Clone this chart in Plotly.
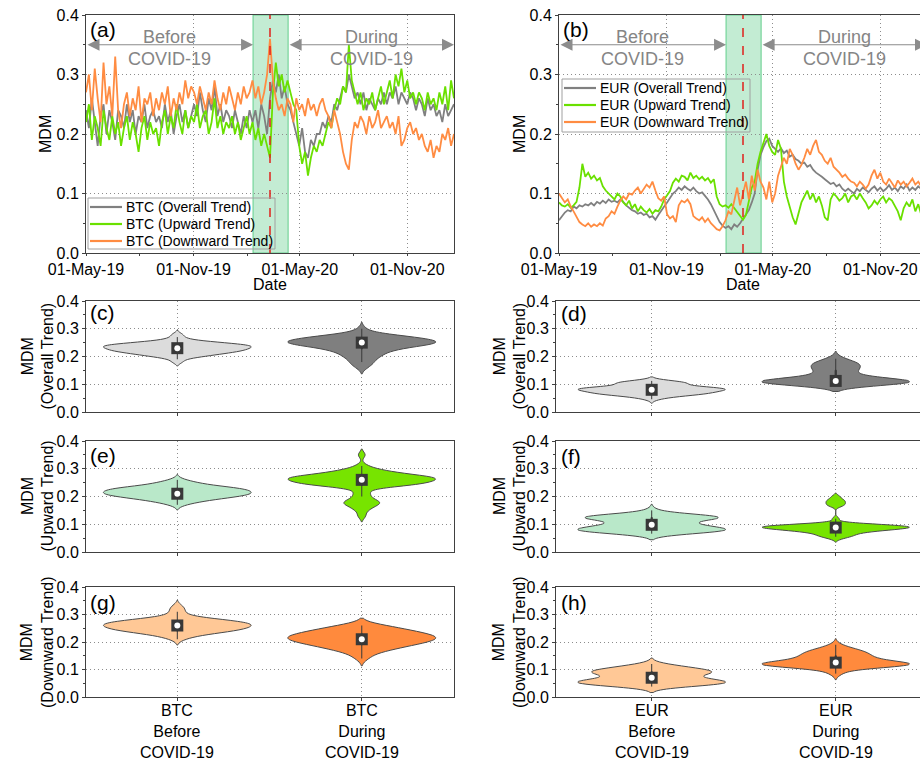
import numpy as np
import pandas as pd
import plotly.graph_objects as go

W, H = 920, 763


def px(x):
    return x / W


def py(y):
    return 1 - y / H


# MDM sampled every 5 days from 1 May 2019 (127 readings).
# Each series is split into: before (57), transition window (13), during (57).
dates = pd.date_range("2019-05-01", periods=127, freq="5D")

# ---------------- BTC ----------------
btc_overall_before = [
    0.24, 0.21, 0.26, 0.22, 0.18, 0.23, 0.25, 0.20, 0.24, 0.22,
    0.19, 0.24, 0.23, 0.21, 0.25, 0.22, 0.24, 0.20, 0.23, 0.22,
    0.25, 0.21, 0.23, 0.24, 0.22, 0.23, 0.21, 0.25, 0.22, 0.24,
    0.20, 0.23, 0.25, 0.22, 0.24, 0.21, 0.23, 0.25, 0.23, 0.27,
    0.24, 0.22, 0.26, 0.24, 0.28, 0.23, 0.25, 0.22, 0.24, 0.23,
    0.21, 0.24, 0.22, 0.20, 0.23, 0.21, 0.24,
]
btc_overall_window = [0.22, 0.24, 0.21, 0.25, 0.23, 0.20, 0.26, 0.29, 0.27, 0.30, 0.26, 0.28, 0.25]
btc_overall_during = [
    0.24, 0.22, 0.20, 0.18, 0.21, 0.17, 0.16, 0.19, 0.18, 0.20,
    0.20, 0.22, 0.21, 0.23, 0.22, 0.25, 0.24, 0.26, 0.28, 0.27,
    0.30, 0.28, 0.26, 0.27, 0.25, 0.27, 0.24, 0.26, 0.25, 0.24,
    0.26, 0.25, 0.27, 0.25, 0.27, 0.26, 0.28, 0.25, 0.27, 0.26,
    0.25, 0.27, 0.26, 0.24, 0.26, 0.25, 0.23, 0.26, 0.24, 0.25,
    0.23, 0.24, 0.22, 0.25, 0.23, 0.24, 0.25,
]

btc_upward_before = [
    0.22, 0.25, 0.19, 0.23, 0.21, 0.18, 0.24, 0.21, 0.19, 0.23,
    0.20, 0.22, 0.18, 0.21, 0.23, 0.19, 0.22, 0.20, 0.17, 0.21,
    0.23, 0.19, 0.22, 0.20, 0.21, 0.18, 0.22, 0.24, 0.20, 0.23,
    0.21, 0.25, 0.22, 0.20, 0.24, 0.21, 0.23, 0.22, 0.25, 0.21,
    0.23, 0.24, 0.20, 0.22, 0.26, 0.21, 0.23, 0.20, 0.22, 0.21,
    0.23, 0.20, 0.22, 0.19, 0.21, 0.23, 0.20,
]
btc_upward_window = [0.22, 0.19, 0.21, 0.18, 0.20, 0.18, 0.16, 0.27, 0.32, 0.28, 0.30, 0.27, 0.29]
btc_upward_during = [
    0.27, 0.25, 0.24, 0.18, 0.15, 0.17, 0.13, 0.16, 0.18, 0.17,
    0.19, 0.18, 0.20, 0.22, 0.21, 0.24, 0.26, 0.25, 0.28, 0.27,
    0.35, 0.29, 0.27, 0.25, 0.27, 0.24, 0.26, 0.25, 0.27, 0.24,
    0.26, 0.28, 0.25, 0.27, 0.29, 0.26, 0.30, 0.28, 0.31, 0.27,
    0.29, 0.26, 0.27, 0.25, 0.27, 0.26, 0.24, 0.27, 0.25, 0.26,
    0.24, 0.27, 0.25, 0.28, 0.24, 0.29, 0.26,
]

btc_downward_before = [
    0.27, 0.30, 0.24, 0.31, 0.26, 0.22, 0.32, 0.25, 0.28, 0.23,
    0.33, 0.24, 0.21, 0.25, 0.27, 0.23, 0.26, 0.24, 0.28, 0.22,
    0.26, 0.25, 0.27, 0.23, 0.26, 0.24, 0.27, 0.25, 0.28, 0.23,
    0.26, 0.24, 0.27, 0.25, 0.29, 0.26, 0.28, 0.27, 0.25, 0.28,
    0.26, 0.24, 0.27, 0.25, 0.29, 0.26, 0.24, 0.27, 0.25, 0.28,
    0.26, 0.24, 0.27, 0.25, 0.28, 0.26, 0.27,
]
btc_downward_window = [0.29, 0.26, 0.28, 0.25, 0.27, 0.30, 0.36, 0.29, 0.26, 0.24, 0.25, 0.23, 0.26]
btc_downward_during = [
    0.25, 0.22, 0.26, 0.24, 0.25, 0.23, 0.26, 0.24, 0.25, 0.23,
    0.25, 0.26, 0.24, 0.23, 0.21, 0.24, 0.22, 0.20, 0.17, 0.15,
    0.14, 0.19, 0.22, 0.21, 0.23, 0.22, 0.20, 0.23, 0.21, 0.22,
    0.24, 0.21, 0.22, 0.23, 0.21, 0.22, 0.20, 0.23, 0.18, 0.19,
    0.21, 0.22, 0.20, 0.21, 0.19, 0.20, 0.18, 0.17, 0.19, 0.16,
    0.18, 0.17, 0.20, 0.19, 0.21, 0.18, 0.20,
]

# ---------------- EUR ----------------
eur_overall_before = [
    0.055, 0.062, 0.068, 0.072, 0.070, 0.078, 0.075, 0.080, 0.078, 0.082,
    0.080, 0.084, 0.080, 0.086, 0.083, 0.088, 0.084, 0.090, 0.086, 0.088,
    0.085, 0.090, 0.086, 0.080, 0.076, 0.072, 0.070, 0.066, 0.068, 0.064,
    0.066, 0.060, 0.062, 0.056, 0.064, 0.070, 0.078, 0.085, 0.092, 0.100,
    0.104, 0.110, 0.106, 0.112, 0.108, 0.105, 0.110, 0.104, 0.100, 0.102,
    0.096, 0.090, 0.082, 0.072, 0.062, 0.052, 0.046,
]
eur_overall_window = [0.042, 0.045, 0.040, 0.048, 0.044, 0.050, 0.058, 0.066, 0.072, 0.085, 0.100, 0.140, 0.165]
eur_overall_during = [
    0.178, 0.188, 0.192, 0.180, 0.175, 0.170, 0.176, 0.168, 0.172, 0.162,
    0.165, 0.158, 0.155, 0.150, 0.152, 0.145, 0.148, 0.140, 0.135, 0.132,
    0.128, 0.124, 0.120, 0.116, 0.118, 0.112, 0.115, 0.108, 0.104, 0.108,
    0.104, 0.100, 0.108, 0.104, 0.110, 0.106, 0.102, 0.108, 0.112, 0.105,
    0.110, 0.104, 0.108, 0.114, 0.106, 0.110, 0.104, 0.112, 0.108, 0.115,
    0.105, 0.110, 0.106, 0.112, 0.108, 0.104, 0.110,
]

eur_upward_before = [
    0.085, 0.080, 0.078, 0.082, 0.076, 0.080, 0.086, 0.110, 0.150, 0.128,
    0.135, 0.125, 0.130, 0.122, 0.126, 0.112, 0.105, 0.100, 0.095, 0.090,
    0.100, 0.095, 0.085, 0.080, 0.088, 0.075, 0.082, 0.070, 0.078, 0.072,
    0.068, 0.074, 0.066, 0.072, 0.070, 0.078, 0.090, 0.098, 0.104, 0.118,
    0.125, 0.120, 0.130, 0.128, 0.122, 0.135, 0.126, 0.130, 0.124, 0.128,
    0.122, 0.126, 0.118, 0.124, 0.095, 0.082, 0.078,
]
eur_upward_window = [0.080, 0.076, 0.082, 0.075, 0.070, 0.062, 0.056, 0.064, 0.090, 0.110, 0.120, 0.150, 0.170]
eur_upward_during = [
    0.185, 0.200, 0.180, 0.170, 0.165, 0.190, 0.175, 0.120, 0.095, 0.075,
    0.060, 0.048, 0.065, 0.085, 0.095, 0.105, 0.090, 0.100, 0.085, 0.095,
    0.080, 0.060, 0.055, 0.090, 0.100, 0.095, 0.088, 0.092, 0.100, 0.085,
    0.095, 0.098, 0.090, 0.100, 0.092, 0.085, 0.075, 0.080, 0.088, 0.082,
    0.090, 0.095, 0.085, 0.092, 0.088, 0.080, 0.070, 0.055, 0.075, 0.085,
    0.078, 0.090, 0.070, 0.082, 0.065, 0.078, 0.072,
]

eur_downward_before = [
    0.100, 0.092, 0.085, 0.090, 0.078, 0.070, 0.060, 0.052, 0.048, 0.045,
    0.050, 0.044, 0.048, 0.045, 0.050, 0.046, 0.058, 0.062, 0.070, 0.066,
    0.078, 0.088, 0.095, 0.090, 0.100, 0.098, 0.105, 0.110, 0.100, 0.108,
    0.115, 0.110, 0.120, 0.105, 0.092, 0.088, 0.095, 0.065, 0.058, 0.062,
    0.052, 0.080, 0.088, 0.085, 0.090, 0.082, 0.062, 0.058, 0.055, 0.060,
    0.052, 0.058, 0.050, 0.045, 0.040, 0.038, 0.045,
]
eur_downward_window = [0.055, 0.070, 0.065, 0.085, 0.110, 0.080, 0.100, 0.120, 0.090, 0.130, 0.105, 0.140, 0.120]
eur_downward_during = [
    0.110, 0.090, 0.120, 0.085, 0.100, 0.130, 0.145, 0.160, 0.150, 0.175,
    0.165, 0.150, 0.140, 0.148, 0.160, 0.175, 0.165, 0.180, 0.190, 0.170,
    0.165, 0.155, 0.150, 0.160, 0.145, 0.140, 0.135, 0.128, 0.132, 0.125,
    0.120, 0.118, 0.112, 0.120, 0.115, 0.108, 0.115, 0.130, 0.140, 0.125,
    0.135, 0.120, 0.115, 0.125, 0.118, 0.110, 0.122, 0.115, 0.120, 0.112,
    0.118, 0.125, 0.115, 0.120, 0.112, 0.118, 0.115,
]

trend_labels = ["Overall Trend", "Upward Trend", "Downward Trend"]
period_labels = ["Before", "During"]
line_colors = ["#808080", "#6ae000", "#ff8c42"]
violin_before_colors = ["#dcdcdc", "#b9e8c9", "#ffc896"]
violin_during_colors = ["#7f7f7f", "#77e400", "#ff8a3d"]

btc_sets = [
    (btc_overall_before, btc_overall_window, btc_overall_during),
    (btc_upward_before, btc_upward_window, btc_upward_during),
    (btc_downward_before, btc_downward_window, btc_downward_during),
]
eur_sets = [
    (eur_overall_before, eur_overall_window, eur_overall_during),
    (eur_upward_before, eur_upward_window, eur_upward_during),
    (eur_downward_before, eur_downward_window, eur_downward_during),
]

window_start, window_end, pandemic_day = "2020-02-11", "2020-04-11", "2020-03-11"
date_start, date_end = "2019-05-01", "2021-01-20"
right_view_end = "2021-01-08"

FONT = "Liberation Sans, Arial, sans-serif"
AX = "#404040"
GRID = "#8c8c8c"
GRID_DASH = "1px,3px"
BOX_DARK = "#383838"

fig = go.Figure()

# ---- time series panels ----
for sets, code, xa, ya in [(btc_sets, "BTC", "x", "y"), (eur_sets, "EUR", "x2", "y2")]:
    for (b, w, d), lab, col in zip(sets, trend_labels, line_colors):
        fig.add_trace(go.Scatter(
            x=dates, y=list(b) + list(w) + list(d), mode="lines",
            line=dict(color=col, width=1.8), name=f"{code} ({lab})",
            xaxis=xa, yaxis=ya, showlegend=False))

# ---- violin panels ----
violin_axes = [("x3", "y3"), ("x5", "y5"), ("x7", "y7"),   # BTC column
               ("x4", "y4"), ("x6", "y6"), ("x8", "y8")]   # EUR column
all_sets = btc_sets + eur_sets
for k, ((xa, ya), (b, w, d)) in enumerate(zip(violin_axes, all_sets)):
    t = k % 3
    for pos, vals, fill in [(0, b, violin_before_colors[t]), (1, d, violin_during_colors[t])]:
        fig.add_trace(go.Violin(
            x=[pos] * len(vals), y=vals, xaxis=xa, yaxis=ya,
            width=0.8, scalemode="width", spanmode="soft", side="both",
            points=False, fillcolor=fill, opacity=1,
            line=dict(color="#4a4a4a", width=1),
            box=dict(visible=True, width=0.008, fillcolor=BOX_DARK,
                     line=dict(color=BOX_DARK, width=1)),
            meanline=dict(visible=False), showlegend=False, hoverinfo="y"))
        med = float(np.median(vals))
        # dark square with a white dot at the median
        fig.add_trace(go.Scatter(
            x=[pos], y=[med], mode="markers",
            marker=dict(color=BOX_DARK, size=12, symbol="square", opacity=1, line=dict(width=0)),
            xaxis=xa, yaxis=ya, showlegend=False, hoverinfo="skip"))
        fig.add_trace(go.Scatter(
            x=[pos], y=[med], mode="markers",
            marker=dict(color="white", size=6, symbol="circle", opacity=1, line=dict(width=0)),
            xaxis=xa, yaxis=ya, showlegend=False, hoverinfo="skip"))


def y_axis(domain, anchor, mirror=True):
    return dict(domain=domain, anchor=anchor, range=[0, 0.4], tickvals=[0, 0.1, 0.2, 0.3, 0.4],
                tickformat=".1f", ticks="outside", ticklen=3,
                tickcolor=AX, showline=True, linecolor=AX, linewidth=1, mirror=mirror,
                showgrid=True, gridcolor=GRID, griddash=GRID_DASH, gridwidth=1, zeroline=False,
                minor=dict(dtick=0.05, tick0=0, ticks="outside", ticklen=2, tickcolor=AX, showgrid=False),
                tickfont=dict(size=16, color="black", family=FONT), fixedrange=True,
                automargin=False)


def t_axis(domain, anchor, end):
    return dict(domain=domain, anchor=anchor, type="date", range=[date_start, end],
                tick0=date_start, dtick="M6", tickformat="%d-%b-%y", ticks="outside",
                ticklen=2, tickcolor=AX, showline=True, linecolor=AX, linewidth=1, mirror=True,
                showgrid=True, gridcolor=GRID, griddash=GRID_DASH, gridwidth=1, zeroline=False,
                minor=dict(dtick="M3", tick0=date_start, ticks="outside", ticklen=2,
                           tickcolor=AX, showgrid=False),
                tickfont=dict(size=16, color="black", family=FONT), fixedrange=True,
                automargin=False)


def c_axis(domain, anchor, rng):
    return dict(domain=domain, anchor=anchor, range=rng, tickvals=[0, 1],
                showticklabels=False, ticks="outside", ticklen=3, tickcolor=AX,
                showline=True, linecolor=AX, linewidth=1, mirror=True,
                showgrid=True, gridcolor=GRID, griddash=GRID_DASH, gridwidth=1, zeroline=False,
                fixedrange=True, automargin=False)


XL = [px(86), px(454)]
XR_T = [px(559), 1.0]
XR_V = [px(556), 1.0]
Y_T = [py(253), py(15)]
Y_ROWS = [[py(412), py(301)], [py(552), py(441)], [py(697), py(587)]]
RNG_L = [-0.495, 1.5]
RNG_R = [-0.52, 1.458]

layout_axes = {
    "xaxis": t_axis(XL, "y", date_end),
    "yaxis": y_axis(Y_T, "x"),
    "xaxis2": t_axis(XR_T, "y2", right_view_end),
    "yaxis2": y_axis(Y_T, "x2", mirror=False),
}
for r in range(3):
    nl, nr = 3 + 2 * r, 4 + 2 * r
    layout_axes[f"xaxis{nl}"] = c_axis(XL, f"y{nl}", RNG_L)
    layout_axes[f"yaxis{nl}"] = y_axis(Y_ROWS[r], f"x{nl}")
    layout_axes[f"xaxis{nr}"] = c_axis(XR_V, f"y{nr}", RNG_R)
    layout_axes[f"yaxis{nr}"] = y_axis(Y_ROWS[r], f"x{nr}", mirror=False)

# ---- shapes: transition window and pandemic declaration ----
shapes = []
for xr, yr in [("x", "y"), ("x2", "y2")]:
    shapes.append(dict(type="rect", xref=xr, yref=yr, x0=window_start, x1=window_end, y0=0, y1=0.4,
                       fillcolor="#c3ecd3", line=dict(color="#62cf8c", width=1), layer="below"))
    shapes.append(dict(type="line", xref=xr, yref=yr, x0=pandemic_day, x1=pandemic_day, y0=0, y1=0.4,
                       line=dict(color="#e0201c", width=1.5, dash="dash"), layer="above"))

# ---- annotations ----
ann = []
GREY_TXT = "#858585"
for xr, yr in [("x", "y"), ("x2", "y2")]:
    for a0, a1, word, mid in [(date_start, window_start, "Before", "2019-09-21"),
                              (window_end, date_end, "During", "2020-08-31")]:
        ann.append(dict(x=a1, y=0.35, ax=a0, ay=0.35, xref=xr, yref=yr, axref=xr, ayref=yr,
                        text="", showarrow=True, arrowside="end+start", arrowhead=2,
                        arrowsize=2, arrowwidth=1.2, arrowcolor="#8c8c8c", standoff=0, startstandoff=0))
        ann.append(dict(x=mid, y=0.363, xref=xr, yref=yr, text=word, showarrow=False,
                        xanchor="center", yanchor="middle",
                        font=dict(size=18, color=GREY_TXT, family=FONT)))
        ann.append(dict(x=mid, y=0.326, xref=xr, yref=yr, text="COVID-19", showarrow=False,
                        xanchor="center", yanchor="middle",
                        font=dict(size=18, color=GREY_TXT, family=FONT)))

panel_tags = [("(a)", 88, 29), ("(b)", 561, 29),
              ("(c)", 88, 312), ("(d)", 559, 314),
              ("(e)", 88, 455), ("(f)", 559, 456),
              ("(g)", 88, 602), ("(h)", 559, 602)]
for tag, xx, yy in panel_tags:
    ann.append(dict(x=px(xx), y=py(yy), xref="paper", yref="paper", text=tag, showarrow=False,
                    xanchor="left", yanchor="middle", font=dict(size=21, color="black", family=FONT)))

TITLE_FONT = dict(size=16, color="black", family=FONT)
for xx in (46, 520):
    ann.append(dict(x=px(xx), y=py(134), xref="paper", yref="paper", text="MDM", textangle=-90,
                    xanchor="center", yanchor="middle", showarrow=False, font=TITLE_FONT))
for xx in (270, 743):
    ann.append(dict(x=px(xx), y=py(285), xref="paper", yref="paper", text="Date",
                    xanchor="center", yanchor="middle", showarrow=False, font=TITLE_FONT))
for r, lab in enumerate(trend_labels):
    yc = (Y_ROWS[r][0] + Y_ROWS[r][1]) / 2
    for xx in (37, 509):
        ann.append(dict(x=px(xx), y=yc, xref="paper", yref="paper", text=f"MDM<br>({lab})",
                        textangle=-90, xanchor="center", yanchor="middle",
                        showarrow=False, font=TITLE_FONT))

# category labels under the bottom violin row
for xa, code in [("x7", "BTC"), ("x8", "EUR")]:
    for pos, period in enumerate(period_labels):
        ann.append(dict(x=pos, xref=xa, y=py(700), yref="paper", yanchor="top", xanchor="center",
                        text=f"{code}<br>{period}<br>COVID-19", showarrow=False, font=TITLE_FONT))

# ---- legends (boxed key with line samples) ----
LEG_FONT = dict(size=14, color="black", family=FONT)
for code, box, rows, lx0, lx1, tx in [
        ("BTC", (88, 198, 275, 249), (207, 224, 241), 90, 122, 124),
        ("EUR", (562, 79, 750, 132), (88, 105, 122), 564, 596, 598)]:
    shapes.append(dict(type="rect", xref="paper", yref="paper",
                       x0=px(box[0]), x1=px(box[2]), y0=py(box[3]), y1=py(box[1]),
                       line=dict(color="#a0a0a0", width=1), fillcolor="rgba(255,255,255,0)",
                       layer="above"))
    for yc, lab, col in zip(rows, trend_labels, line_colors):
        shapes.append(dict(type="line", xref="paper", yref="paper", x0=px(lx0), x1=px(lx1),
                           y0=py(yc), y1=py(yc), line=dict(color=col, width=2.2), layer="above"))
        ann.append(dict(x=px(tx), y=py(yc), xref="paper", yref="paper", text=f"{code} ({lab})",
                        xanchor="left", yanchor="middle", showarrow=False, font=LEG_FONT))

fig.update_layout(
    width=W, height=H, autosize=False,
    margin=dict(l=0, r=0, t=0, b=0, pad=0, autoexpand=False),
    paper_bgcolor="white", plot_bgcolor="white",
    font=dict(family=FONT, color="black"),
    showlegend=False,
    shapes=shapes, annotations=ann, violinmode="overlay",
    **layout_axes,
)

fig.write_html("out.html")
